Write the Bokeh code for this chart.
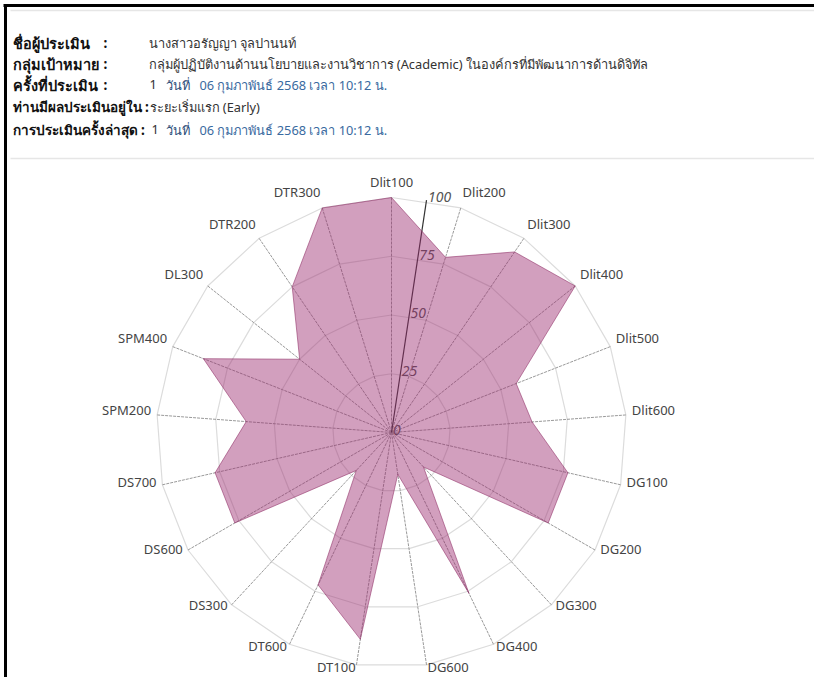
import math
from bokeh.plotting import figure
from bokeh.models import Range1d
from bokeh.core.properties import value
from bokeh.embed import file_html
from bokeh.resources import INLINE

# ---------------- data ----------------
categories = ["Dlit100", "Dlit200", "Dlit300", "Dlit400", "Dlit500", "Dlit600",
              "DG100", "DG200", "DG300", "DG400", "DG600", "DT100", "DT600",
              "DS300", "DS600", "DS700", "SPM200", "SPM400", "DL300", "DTR200", "DTR300"]
scores = [100, 78, 93, 100, 57, 60, 77, 77, 20, 76, 18, 89, 72, 22, 77, 77, 62, 86, 50, 75, 100]
rticks = [0, 25, 50, 75, 100]
rmax = 100

info_labels = ["ชื่อผู้ประเมิน", "กลุ่มเป้าหมาย", "ครั้งที่ประเมิน",
               "ท่านมีผลประเมินอยู่ใน :", "การประเมินครั้งล่าสุด :"]
info_values = ["นางสาวอรัญญา จุลปานนท์",
               "กลุ่มผู้ปฏิบัติงานด้านนโยบายและงานวิชาการ (Academic) ในองค์กรที่มีพัฒนาการด้านดิจิทัล",
               "1", "ระยะเริ่มแรก (Early)", "1"]
date_word = "วันที่"
date_text = "06 กุมภาพันธ์ 2568 เวลา 10:12 น."

# ---------------- geometry helpers (page px -> data) ----------------
W, H = 814, 677
OX, OY = 0, 0                  # figure origin on the page
CX, CY = 391.0, 432.0          # radar centre on the page
SCALE = 235.0 / rmax           # px per value unit

def X(px):
    return (px - CX) / SCALE

def Y(py):
    return (CY - py) / SCALE

FONT = "Noto Sans"

p = figure(width=W, height=H, output_backend="svg", toolbar_location=None,
           x_range=Range1d(X(OX), X(OX + W)), y_range=Range1d(Y(OY + H), Y(OY)),
           min_border=0, outline_line_color=None, background_fill_color="white",
           border_fill_color="white")
p.axis.visible = False
p.grid.visible = False

n = len(categories)
step = 2 * math.pi / n
angles = [i * step for i in range(n)]

# ---------------- page decoration ----------------
p.segment(x0=[X(5), X(3)], y0=[Y(3.5), Y(5)], x1=[X(5), X(OX + W)], y1=[Y(OY + H), Y(5)],
          line_color="black", line_width=3)
p.segment(x0=[X(10), X(10)], y0=[Y(10), Y(158)], x1=[X(OX + W), X(OX + W)], y1=[Y(10), Y(158)],
          line_color="#e6e6e6", line_width=1.5)

# ---------------- header ----------------
rows_y = [42, 63, 84, 106, 129]
p.text(x=[X(12)] * 3, y=[Y(v) for v in rows_y[:3]], text=info_labels[:3],
       text_font=value(FONT), text_font_size="14.5px", text_font_style="bold",
       text_color="#111111", text_baseline="middle", text_align="left")
p.text(x=[X(12)] * 2, y=[Y(v) for v in rows_y[3:]], text=info_labels[3:],
       text_font=value(FONT), text_font_size="13.5px", text_font_style="bold",
       text_color="#111111", text_baseline="middle", text_align="left")
p.text(x=[X(103)] * 3, y=[Y(v) for v in rows_y[:3]], text=[":"] * 3,
       text_font=value(FONT), text_font_size="13.5px", text_font_style="bold",
       text_color="#111111", text_baseline="middle", text_align="left")
val_x = [148, 148, 149, 149, 151]
p.text(x=[X(v) for v in val_x], y=[Y(v) for v in rows_y], text=info_values,
       text_font=value(FONT), text_font_size="12.8px",
       text_color="#333333", text_baseline="middle", text_align="left")
p.text(x=[X(165), X(165)], y=[Y(rows_y[2]), Y(rows_y[4])], text=[date_word, date_word],
       text_font=value(FONT), text_font_size="12.8px",
       text_color="#2f4f7a", text_baseline="middle", text_align="left")
p.text(x=[X(199), X(199)], y=[Y(rows_y[2]), Y(rows_y[4])], text=[date_text, date_text],
       text_font=value(FONT), text_font_size="12.8px",
       text_color="#3a6aa0", text_baseline="middle", text_align="left")

# ---------------- radar grid ----------------
for t in rticks[1:]:
    gx = [t * math.sin(a) for a in angles] + [0]
    gy = [t * math.cos(a) for a in angles] + [t]
    p.line(gx, gy, line_color="#dcdcdc", line_width=1.2)

p.segment(x0=[0] * n, y0=[0] * n,
          x1=[rmax * math.sin(a) for a in angles], y1=[rmax * math.cos(a) for a in angles],
          line_color="#9a9a9a", line_width=1, line_dash="3 1")

# radial axis (rotated half a step)
ax_a = step / 2
p.segment(x0=[0], y0=[0], x1=[rmax * math.sin(ax_a)], y1=[rmax * math.cos(ax_a)],
          line_color="#333333", line_width=1.2)
p.text(x=[t * math.sin(ax_a) + 1.5 / SCALE for t in rticks],
       y=[t * math.cos(ax_a) + 3 / SCALE for t in rticks],
       text=[str(t) for t in rticks], text_font=value(FONT), text_font_size="14px",
       text_font_style="italic", text_color="#555555",
       text_baseline="middle", text_align="left")

# ---------------- data polygon ----------------
px_ = [s * math.sin(a) for s, a in zip(scores, angles)]
py_ = [s * math.cos(a) for s, a in zip(scores, angles)]
p.patch(px_, py_, fill_color="#9c2a6e", fill_alpha=0.45,
        line_color="#8c2a62", line_alpha=0.55, line_width=1)

# ---------------- category labels ----------------
groups = {"left": ([], [], []), "right": ([], [], []), "center": ([], [], [])}
for c, a in zip(categories, angles):
    s, co = math.sin(a), math.cos(a)
    lx = rmax * s + 6 * s / SCALE
    ly = rmax * co + (6 * co + 4 + 6 * max(co, 0)) / SCALE
    key = "left" if s > 0.05 else ("right" if s < -0.05 else "center")
    groups[key][0].append(lx)
    groups[key][1].append(ly)
    groups[key][2].append(c)
for key, (gx, gy, gt) in groups.items():
    if gt:
        p.text(x=gx, y=gy, text=gt, text_font=value(FONT), text_font_size="13px",
               text_color="#444444", text_baseline="middle", text_align=key)

open("out.html", "w").write(file_html(p, INLINE))
